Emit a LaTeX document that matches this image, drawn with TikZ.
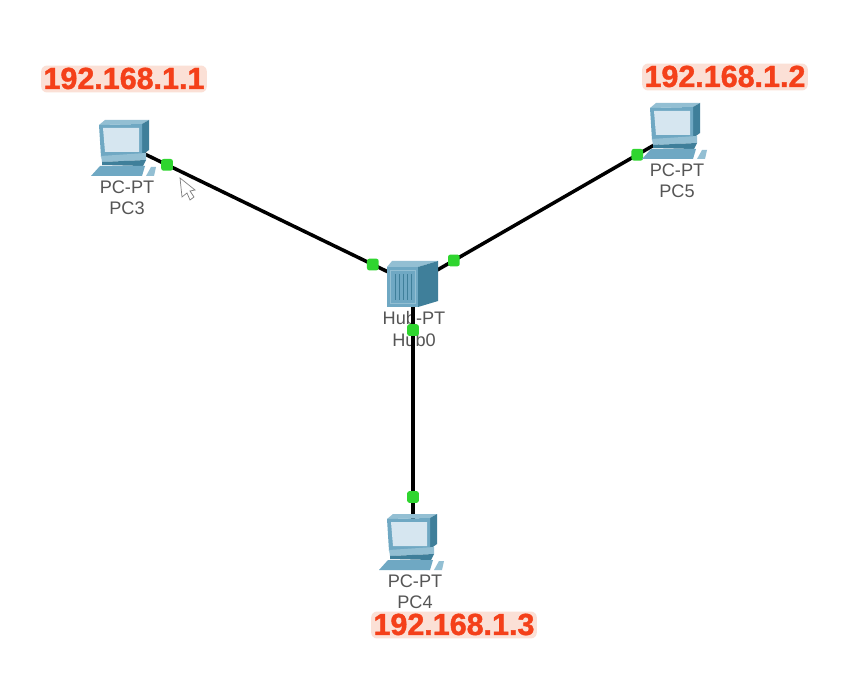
\documentclass[tikz,border=0pt]{standalone}
\usepackage{fontspec}
\setmainfont{Liberation Sans}
\usetikzlibrary{positioning}
\definecolor{ipred}{HTML}{F4401A}
\definecolor{iphalo}{HTML}{FBE0D6}
\definecolor{labelgray}{HTML}{555555}
\definecolor{portgreen}{HTML}{2FD52F}
\definecolor{devfront}{HTML}{6FA8C3}
\definecolor{devtop}{HTML}{93BFD3}
\definecolor{devside}{HTML}{3F7F9A}
\definecolor{devscreen}{HTML}{D6E6F0}
\newcommand{\iptext}[1]{\special{pdf:code 2 Tr 0.35 w 0.957 0.25 0.10 RG}#1\special{pdf:code 0 Tr}}
\tikzset{
	pcicon/.pic={
		\fill[devtop] (0,5) -- (6,0) -- (50,0) -- (43,4) -- cycle;
		\fill[devside] (43,4) -- (50,0) -- (50,30) -- (43,35) -- cycle;
		\fill[devfront] (0,5) -- (43,4) -- (43,35) -- (2,37) -- cycle;
		\fill[devscreen] (4,8) -- (40,8) -- (40,32) -- (6,32) -- cycle;
		\fill[devtop] (2,36) -- (47,33) -- (47,40) -- (3,42) -- cycle;
		\fill[devside] (3,42) -- (47,40) -- (44,46) -- (3,45) -- cycle;
		\fill[devfront] (-8,56) -- (1,46) -- (46,46) -- (43,56) -- cycle;
		\fill[devtop] (47,56) -- (52,47) -- (57,47) -- (55,56) -- cycle;
	},
	hubicon/.pic={
		\fill[devtop] (0,6) -- (5,0) -- (51,0) -- (31,6) -- cycle;
		\fill[devside] (31,6) -- (51,0) -- (51,40) -- (31,46) -- cycle;
		\fill[devfront] (0,6) -- (31,6) -- (31,46) -- (0,46) -- cycle;
		\draw[devtop,fill=devfront] (3,9) rectangle (28,42);
		\foreach \i in {9,13,17,21,25}
			\draw[devside,line width=.8pt] (\i-1,13) -- (\i-1,39);
	}
}
\begin{document}
\begin{tikzpicture}
	[x=.03cm,y=-.03cm,
	device/.style={inner sep=0pt,minimum size=2pt},
	port/.style={fill=portgreen,draw=none,inner sep=0pt,minimum size=10pt,rounded corners=2pt},
	link/.style={line width=3pt,black},
	dev label/.style={text=labelgray,font=\fontsize{15.5}{17}\selectfont,inner sep=0pt},
	ip label/.style={inner sep=2pt,fill=iphalo,rounded corners=5pt,text=ipred,text height=18pt,text depth=1pt,font=\bfseries\fontsize{26}{28}\selectfont}]
	\useasboundingbox[fill=white] (0,0) rectangle (865,683);

	\node[device] (pc3) at (124,144) {};
	\node[device] (pc5) at (675,133) {};
	\node[device] (pc4) at (413,540) {};
	\node[device] (hub0) at (413,284) {};

	\node[dev label] (pc3 type) at (127,187) {PC-PT};
	\node[dev label] (pc3 name) at (127,208) {PC3};
	\node[dev label] (pc5 type) at (677,170) {PC-PT};
	\node[dev label] (pc5 name) at (677,191) {PC5};
	\node[dev label] (pc4 type) at (415,581) {PC-PT};
	\node[dev label] (pc4 name) at (415,602) {PC4};
	\node[dev label] (hub type) at (414,318) {Hub-PT};
	\node[dev label] (hub name) at (414,340) {Hub0};

	\draw[link] (pc3.center) to node[port,pos=.149] (port pc3) {} node[port,pos=.861] (port hub a) {} (hub0.center);
	\draw[link] (pc5.center) to node[port,pos=.144] (port pc5) {} node[port,pos=.844] (port hub b) {} (hub0.center);
	\draw[link] (hub0.center) to node[port,pos=.18] (port hub c) {} node[port,pos=.832] (port pc4) {} (pc4.center);

	\pic at (99,120) {pcicon};
	\pic at (650,103) {pcicon};
	\pic at (387,514) {pcicon};
	\pic at (387,261) {hubicon};

	\node[ip label] (ip pc3) at (124,79) {\iptext{192.168.1.1}};
	\node[ip label] (ip pc5) at (725,77) {\iptext{192.168.1.2}};
	\node[ip label] (ip pc4) at (454,625) {\iptext{192.168.1.3}};

	% mouse pointer
	\draw[gray,fill=white,line width=.6pt] (180,178) -- (182,197) -- (187,193) -- (190,200) -- (194,197) -- (190,191) -- (195,190) -- cycle;
\end{tikzpicture}
\end{document}
